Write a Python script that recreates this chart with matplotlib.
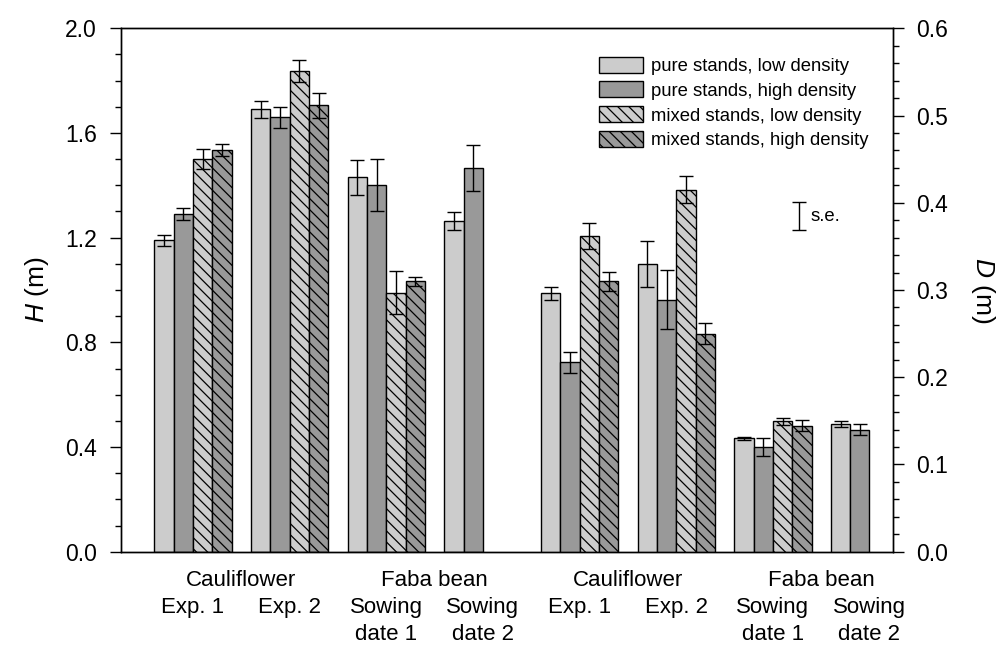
import matplotlib
matplotlib.use("Agg")
import matplotlib.pyplot as plt
import numpy as np

plt.rcParams['font.family'] = ['Liberation Sans', 'DejaVu Sans']
plt.rcParams['mathtext.fontset'] = 'custom'
plt.rcParams['mathtext.it'] = 'Liberation Sans:italic'
plt.rcParams['mathtext.rm'] = 'Liberation Sans'
plt.rcParams['hatch.linewidth'] = 0.9

# treatments (bar order inside each group)
treatments = ['pure stands, low density', 'pure stands, high density',
              'mixed stands, low density', 'mixed stands, high density']
crops = ['Cauliflower', 'Faba bean']
experiments = ['Exp. 1', 'Exp. 2', 'Sowing\ndate 1', 'Sowing\ndate 2']

# plant height H (m), left axis
H_mean = [[1.19, 1.29, 1.50, 1.535],
          [1.69, 1.66, 1.835, 1.705],
          [1.43, 1.40, 0.99, 1.033],
          [1.265, 1.465]]
H_se = [[0.020, 0.022, 0.039, 0.022],
        [0.032, 0.040, 0.042, 0.048],
        [0.067, 0.100, 0.081, 0.017],
        [0.034, 0.088]]

# canopy diameter D (m), right axis
D_mean = [[0.296, 0.217, 0.362, 0.310],
          [0.330, 0.289, 0.415, 0.250],
          [0.130, 0.120, 0.1495, 0.1445],
          [0.1465, 0.140]]
D_se = [[0.0075, 0.0124, 0.0150, 0.0110],
        [0.0260, 0.0340, 0.0155, 0.0118],
        [0.0020, 0.0100, 0.0040, 0.0060],
        [0.0036, 0.0060]]

colors = ['#cccccc', '#999999', '#cccccc', '#999999']
hatches = [None, None, '\\\\\\', '\\\\\\']

fig = plt.figure(figsize=(10.01, 6.55), dpi=100)
ax = fig.add_axes([0.1206, 0.1577, 0.7712, 0.7991])
ax2 = ax.twinx()

handles = [None] * 4


def draw_block(axis, means, ses, first_group):
    for g, (m, s) in enumerate(zip(means, ses)):
        base = 5 * (first_group + g)
        for i in range(len(m)):
            b = axis.bar(base + i, m[i], width=1, align='edge', color=colors[i],
                         edgecolor='black', linewidth=1.0, hatch=hatches[i],
                         label=treatments[i])
            axis.errorbar(base + i + 0.5, m[i], yerr=s[i], fmt='none',
                          ecolor='black', elinewidth=1.0, capsize=4.8, capthick=1.0)
            if handles[i] is None:
                handles[i] = b


draw_block(ax, H_mean, H_se, 0)
draw_block(ax2, D_mean, D_se, 4)

ax.set_xlim(-1.74, 38.2)
ax.set_ylim(0, 2.0)
ax2.set_ylim(0, 0.6)

ax.set_yticks(np.arange(0, 2.01, 0.4))
ax.set_yticks(np.arange(0, 2.01, 0.1), minor=True)
ax.yaxis.set_major_formatter(matplotlib.ticker.FormatStrFormatter('%.1f'))
ax2.set_yticks(np.arange(0, 0.61, 0.1))
ax2.set_yticks(np.arange(0, 0.61, 0.02), minor=True)
ax2.yaxis.set_major_formatter(matplotlib.ticker.FormatStrFormatter('%.1f'))

ax.set_xticks([])
for a in (ax, ax2):
    a.tick_params(axis='y', which='major', length=8, width=1, labelsize=16.5, pad=9)
    a.tick_params(axis='y', which='minor', length=4.5, width=1)
    for sp in a.spines.values():
        sp.set_linewidth(1.0)

ax.set_ylabel('$H$ (m)', fontsize=19, labelpad=10)
ax2.set_ylabel('$D$ (m)', fontsize=19, rotation=270, labelpad=35)

# category labels under the bars
trans = ax.get_xaxis_transform()
centers = [5 * g + 2 for g in range(8)]
for k in range(4):
    c = crops[k % 2]
    x_mid = (centers[2 * k] + centers[2 * k + 1]) / 2
    ax.text(x_mid, -0.0655, c, transform=trans, ha='center', va='baseline',
            fontsize=16)
for g in range(8):
    lines = experiments[g % 4].split('\n')
    for j, line in enumerate(lines):
        ax.text(centers[g], -0.117 - 0.0516 * j, line, transform=trans,
                ha='center', va='baseline', fontsize=16)

leg = ax.legend(handles=handles, labels=treatments, loc='upper left',
                bbox_to_anchor=(0.619, 0.946), borderaxespad=0, borderpad=0,
                frameon=False, fontsize=13.3, handlelength=2.38, handleheight=0.96,
                handletextpad=0.45, labelspacing=0.35)

# standard error key
ax.errorbar(0.879, 0.641, yerr=0.027, transform=ax.transAxes, fmt='none',
            ecolor='black', elinewidth=1.0, capsize=4.8, capthick=1.0)
ax.text(0.893, 0.641, 's.e.', transform=ax.transAxes, ha='left', va='center',
        fontsize=13.3)

fig.savefig('out.png', dpi=100)
